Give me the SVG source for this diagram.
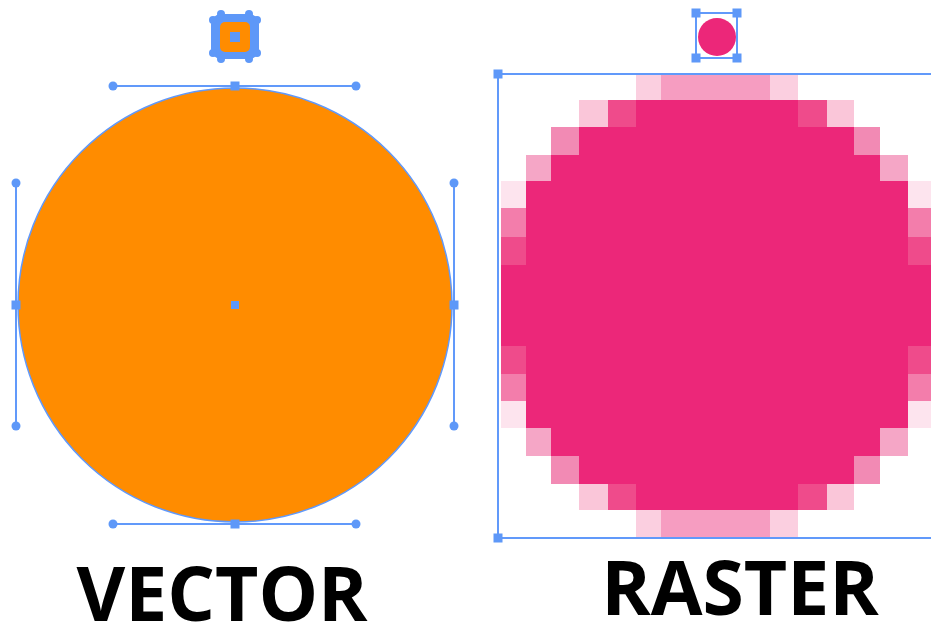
<svg xmlns="http://www.w3.org/2000/svg" width="931" height="626" viewBox="0 0 931 626">
<style>
.h{stroke:#6199FA;stroke-width:2;fill:none}
.b{fill:#5E98F8}
.lbl{font-family:"Open Sans","Liberation Sans",sans-serif;font-weight:bold;font-size:75px;fill:#000;text-anchor:middle}
.px rect{shape-rendering:crispEdges}
.F{fill:#EC2779}.M{fill:#F69DC1}.L{fill:#FBCFE0}.Lb{fill:#FAC6D9}.D{fill:#EF4B8B}.M2{fill:#F28AB4}.L3{fill:#F5A6C6}.VL{fill:#FDE4EE}.M3{fill:#F37DAB}
</style>
<defs>
<rect id="sq" x="-4.5" y="-4.5" width="9" height="9" fill="#5E98F8"/>
<circle id="dot" r="4.5" fill="#5E98F8"/>
</defs>
<rect width="931" height="626" fill="#fff"/>

<g id="vector-icon">
<rect x="211" y="14" width="48" height="45" rx="10" class="b"/>
<circle cx="213" cy="20" r="4" class="b"/><circle cx="213" cy="53" r="4" class="b"/>
<circle cx="257" cy="20" r="4" class="b"/><circle cx="257" cy="53" r="4" class="b"/>
<circle cx="221" cy="14" r="4" class="b"/><circle cx="249" cy="14" r="4" class="b"/>
<circle cx="221" cy="59" r="4" class="b"/><circle cx="249" cy="59" r="4" class="b"/>
<rect x="220" y="22" width="30" height="30" rx="5" fill="#FF8C00"/>
<rect x="230" y="32" width="10" height="10" class="b"/>
</g>

<g id="vector-circle">
<circle cx="235" cy="305" r="217" fill="#FF8C00" stroke="#6199FA" stroke-width="1.5"/>
<path class="h" d="M113,86H356M113,524H356M16,183V426M454,183V426"/>
<use href="#dot" x="113" y="86"/><use href="#dot" x="356" y="86"/>
<use href="#dot" x="113" y="524"/><use href="#dot" x="356" y="524"/>
<use href="#dot" x="16" y="183"/><use href="#dot" x="16" y="426"/>
<use href="#dot" x="454" y="183"/><use href="#dot" x="454" y="426"/>
<use href="#sq" x="235" y="86"/><use href="#sq" x="235" y="524"/>
<use href="#sq" x="16" y="305"/><use href="#sq" x="454" y="305"/>
<rect x="231" y="301" width="8" height="8" class="b"/>
</g>

<g id="raster-icon">
<circle cx="717" cy="37" r="19" class="F"/>
<rect x="696" y="13" width="41" height="45" class="h"/>
<use href="#sq" x="696" y="13"/><use href="#sq" x="737" y="13"/>
<use href="#sq" x="696" y="58"/><use href="#sq" x="737" y="58"/>
</g>

<g id="raster-grid" class="px">
<rect class="F" x="636" y="100" width="162" height="27"/>
<rect class="F" x="579" y="127" width="275" height="28"/>
<rect class="F" x="551" y="155" width="329" height="26"/>
<rect class="F" x="526" y="181" width="382" height="84"/>
<rect class="F" x="501" y="265" width="434" height="81"/>
<rect class="F" x="526" y="346" width="382" height="82"/>
<rect class="F" x="551" y="428" width="329" height="28"/>
<rect class="F" x="579" y="456" width="275" height="28"/>
<rect class="F" x="636" y="484" width="162" height="26"/>
<rect class="L" x="636" y="74" width="25" height="26"/><rect class="M" x="661" y="74" width="109" height="26"/><rect class="L" x="770" y="74" width="28" height="26"/>
<rect class="L" x="636" y="510" width="25" height="27"/><rect class="M" x="661" y="510" width="109" height="27"/><rect class="L" x="770" y="510" width="28" height="27"/>
<rect class="Lb" x="579" y="100" width="29" height="27"/><rect class="D" x="608" y="100" width="28" height="27"/>
<rect class="D" x="798" y="100" width="29" height="27"/><rect class="Lb" x="827" y="100" width="27" height="27"/>
<rect class="Lb" x="579" y="484" width="29" height="26"/><rect class="D" x="608" y="484" width="28" height="26"/>
<rect class="D" x="798" y="484" width="29" height="26"/><rect class="Lb" x="827" y="484" width="27" height="26"/>
<rect class="M2" x="551" y="127" width="28" height="28"/><rect class="M2" x="854" y="127" width="26" height="28"/>
<rect class="M2" x="551" y="456" width="28" height="28"/><rect class="M2" x="854" y="456" width="26" height="28"/>
<rect class="L3" x="526" y="155" width="25" height="26"/><rect class="L3" x="880" y="155" width="28" height="26"/>
<rect class="L3" x="526" y="428" width="25" height="28"/><rect class="L3" x="880" y="428" width="28" height="28"/>
<rect class="VL" x="501" y="181" width="25" height="27"/><rect class="VL" x="908" y="181" width="27" height="27"/>
<rect class="M3" x="501" y="208" width="25" height="29"/><rect class="M3" x="908" y="208" width="27" height="29"/>
<rect class="D" x="501" y="237" width="25" height="28"/><rect class="D" x="908" y="237" width="27" height="28"/>
<rect class="D" x="501" y="346" width="25" height="28"/><rect class="D" x="908" y="346" width="27" height="28"/>
<rect class="M3" x="501" y="374" width="25" height="27"/><rect class="M3" x="908" y="374" width="27" height="27"/>
<rect class="VL" x="501" y="401" width="25" height="27"/><rect class="VL" x="908" y="401" width="27" height="27"/>
</g>

<g id="raster-frame">
<path class="h" d="M498,74H940M498,74V538M498,538H940"/>
<use href="#sq" x="498" y="74"/><use href="#sq" x="498" y="538"/>
</g>

<g id="labels">
<text class="lbl" x="222" y="621">VECTOR</text>
<text class="lbl" x="740" y="615">RASTER</text>
</g>
</svg>
